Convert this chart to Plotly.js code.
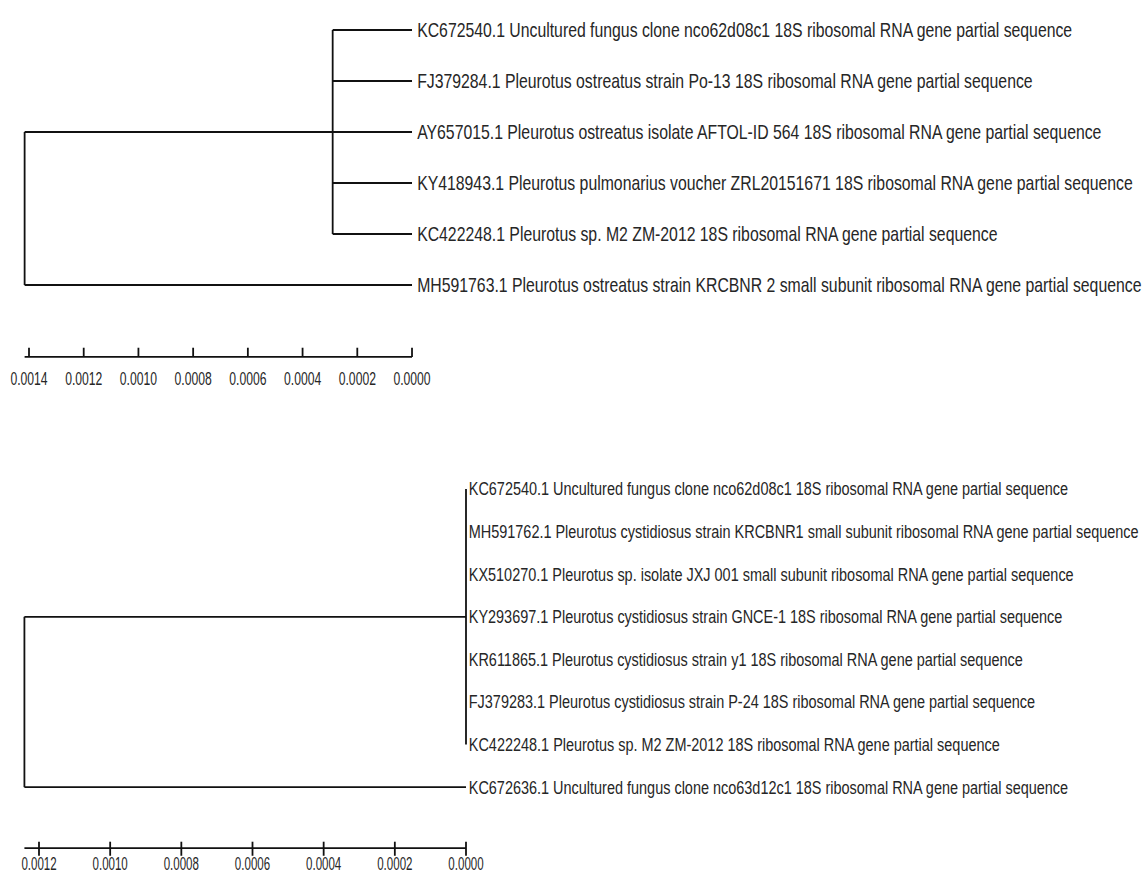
<!DOCTYPE html>
<html>
<head>
<meta charset="utf-8">
<script src="https://cdn.plot.ly/plotly-3.0.1.min.js"></script>
<style>
html,body{margin:0;padding:0;background:#fff;}
#chart{width:1143px;height:876px;}
/* the reference uses a tall, condensed face: squeeze the regular face horizontally */
#chart .annotation-text{transform-box:fill-box;transform-origin:0% 50%;transform:scaleX(0.79);}
#chart .textpoint text{transform-box:fill-box;transform-origin:50% 50%;transform:scaleX(0.64);}
</style>
</head>
<body>
<div id="chart"></div>
<script>
// ---------- DATA ----------
// Tree 1 (top): five sequences forming a clade, one outgroup
const topLabels = [
  "KC672540.1 Uncultured fungus clone nco62d08c1 18S ribosomal RNA gene partial sequence",
  "FJ379284.1 Pleurotus ostreatus strain Po-13 18S ribosomal RNA gene partial sequence",
  "AY657015.1 Pleurotus ostreatus isolate AFTOL-ID 564 18S ribosomal RNA gene partial sequence",
  "KY418943.1 Pleurotus pulmonarius voucher ZRL20151671 18S ribosomal RNA gene partial sequence",
  "KC422248.1 Pleurotus sp. M2 ZM-2012 18S ribosomal RNA gene partial sequence",
  "MH591763.1 Pleurotus ostreatus strain KRCBNR 2 small subunit ribosomal RNA gene partial sequence"
];
const topCladeSize = 5;          // leaves 0..4 join at the inner node
const topInnerHeight = 0.00029;  // node height (distance from tips)
const topRootHeight = 0.001416;
const topScaleTicks = [0.0014, 0.0012, 0.0010, 0.0008, 0.0006, 0.0004, 0.0002, 0.0000];
const topScaleLabels = ["0.0014","0.0012","0.0010","0.0008","0.0006","0.0004","0.0002","0.0000"];

// Tree 2 (bottom): seven identical sequences, one outgroup
const bottomLabels = [
  "KC672540.1 Uncultured fungus clone nco62d08c1 18S ribosomal RNA gene partial sequence",
  "MH591762.1 Pleurotus cystidiosus strain KRCBNR1 small subunit ribosomal RNA gene partial sequence",
  "KX510270.1 Pleurotus sp. isolate JXJ 001 small subunit ribosomal RNA gene partial sequence",
  "KY293697.1 Pleurotus cystidiosus strain GNCE-1 18S ribosomal RNA gene partial sequence",
  "KR611865.1 Pleurotus cystidiosus strain y1 18S ribosomal RNA gene partial sequence",
  "FJ379283.1 Pleurotus cystidiosus strain P-24 18S ribosomal RNA gene partial sequence",
  "KC422248.1 Pleurotus sp. M2 ZM-2012 18S ribosomal RNA gene partial sequence",
  "KC672636.1 Uncultured fungus clone nco63d12c1 18S ribosomal RNA gene partial sequence"
];
const bottomCladeSize = 7;
const bottomInnerHeight = 0.0;
const bottomRootHeight = 0.001241;
const bottomScaleTicks = [0.0012, 0.0010, 0.0008, 0.0006, 0.0004, 0.0002, 0.0000];
const bottomScaleLabels = ["0.0012","0.0010","0.0008","0.0006","0.0004","0.0002","0.0000"];

// ---------- STYLE ----------
const LINE = {color:"#111111", width:1.8};
const FONT = "Liberation Sans Narrow, Arial Narrow, Liberation Sans, Arial, sans-serif";
const TEXTCOL = "#262626";

const traces = [];
const annotations = [];

function tree(labels, cladeSize, innerH, rootH, xa, ya, fontSize, shift){
  const xs = [], ys = [];
  const seg = (x0,y0,x1,y1)=>{xs.push(x0,x1,null); ys.push(y0,y1,null);};
  for(let i=0;i<cladeSize;i++){ if(innerH>0) seg(innerH,i,0,i); }
  seg(innerH,0,innerH,cladeSize-1);
  const cladeY = (cladeSize-1)/2;
  const outY = labels.length-1;
  seg(rootH,cladeY,innerH,cladeY);
  seg(rootH,outY,0,outY);
  seg(rootH,cladeY,rootH,outY);
  traces.push({type:"scatter",mode:"lines",x:xs,y:ys,xaxis:xa,yaxis:ya,
    line:LINE,hoverinfo:"skip",cliponaxis:false});
  labels.forEach((t,i)=>{
    annotations.push({text:t,x:0,y:i,xref:xa,yref:ya,xanchor:"left",yanchor:"middle",
      showarrow:false,xshift:shift,font:{family:FONT,size:fontSize,color:TEXTCOL}});
  });
}

function scaleBar(ticks, labels, rootH, yLine, tickUp, tickDown, yLab, xa, ya, fontSize){
  const xs=[rootH,0,null], ys=[yLine,yLine,null];
  ticks.forEach(t=>{xs.push(t,t,null); ys.push(yLine-tickUp,yLine+tickDown,null);});
  traces.push({type:"scatter",mode:"lines",x:xs,y:ys,xaxis:xa,yaxis:ya,
    line:LINE,hoverinfo:"skip",cliponaxis:false});
  traces.push({type:"scatter",mode:"text",x:ticks,y:ticks.map(()=>yLab),text:labels,
    textposition:"middle center",xaxis:xa,yaxis:ya,hoverinfo:"skip",cliponaxis:false,
    textfont:{family:FONT,size:fontSize,color:TEXTCOL}});
}

tree(topLabels, topCladeSize, topInnerHeight, topRootHeight, "x", "y", 20, 3);
scaleBar(topScaleTicks, topScaleLabels, topRootHeight, 6.41, 0.18, 0, 6.86, "x", "y", 19);

tree(bottomLabels, bottomCladeSize, bottomInnerHeight, bottomRootHeight, "x2", "y2", 18.3, 1);
scaleBar(bottomScaleTicks, bottomScaleLabels, bottomRootHeight, 8.43, 0.15, 0.18, 8.85, "x2", "y2", 18);

const hidden = {visible:true,showgrid:false,zeroline:false,showline:false,showticklabels:false,ticks:"",fixedrange:true};

const layout = {
  width:1143, height:876,
  margin:{l:0,r:0,t:0,b:0},
  paper_bgcolor:"#ffffff", plot_bgcolor:"#ffffff",
  showlegend:false,
  xaxis: Object.assign({}, hidden, {domain:[0,1], range:[0.001506,-0.002672], anchor:"y"}),
  yaxis: Object.assign({}, hidden, {domain:[0.5,1], range:[8.0,-0.588], anchor:"x"}),
  xaxis2: Object.assign({}, hidden, {domain:[0,1], range:[0.0013096,-0.0019026], anchor:"y2"}),
  yaxis2: Object.assign({}, hidden, {domain:[0,0.5], range:[9.085,-1.197], anchor:"x2"}),
  annotations: annotations
};

Plotly.newPlot("chart", traces, layout, {staticPlot:true, displayModeBar:false});
</script>
</body>
</html>
